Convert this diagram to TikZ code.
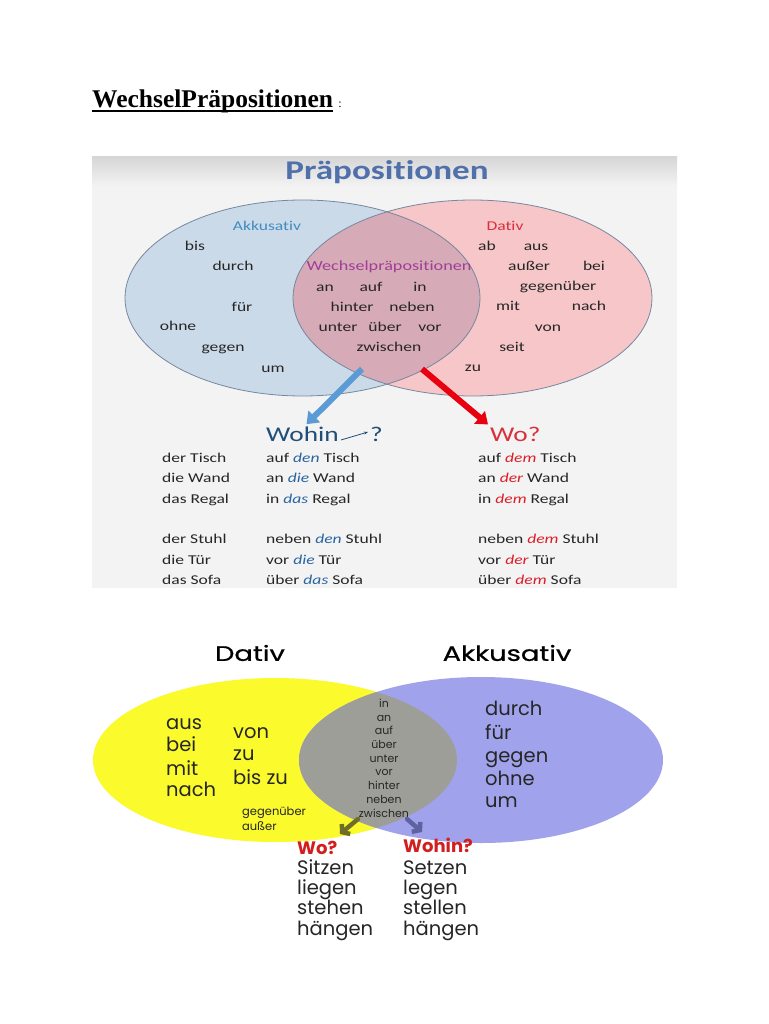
\documentclass[tikz,border=0pt]{standalone}
\usepackage{fontspec}
\setmainfont{Liberation Serif}
\newfontfamily\calibri[FakeStretch=1.3, Ligatures=NoCommon]{Carlito}
\newfontfamily\gothic{Poppins}
\newfontfamily\gothichead[FakeStretch=1.3, FakeBold=0.8]{Poppins}
\usetikzlibrary{arrows.meta}

\definecolor{panelgray}{RGB}{243,243,243}
\definecolor{titleblue}{RGB}{79,112,170}
\definecolor{akkfill}{RGB}{203,218,233}
\definecolor{datfill}{RGB}{246,198,200}
\definecolor{lensfill}{RGB}{214,170,182}
\definecolor{vennline}{RGB}{118,136,160}
\definecolor{wordgray}{RGB}{38,38,38}
\definecolor{akklabel}{RGB}{66,140,192}
\definecolor{datlabel}{RGB}{218,48,58}
\definecolor{wechsel}{RGB}{160,62,152}
\definecolor{wohinblue}{RGB}{31,78,121}
\definecolor{arrowblue}{RGB}{91,155,213}
\definecolor{arrowred}{RGB}{232,0,14}
\definecolor{artblue}{RGB}{40,100,160}
\definecolor{artred}{RGB}{220,30,40}
\definecolor{vennyellow}{RGB}{250,250,45}
\definecolor{vennviolet}{RGB}{160,163,236}
\definecolor{venngray}{RGB}{158,158,152}
\definecolor{woolive}{RGB}{110,110,40}
\definecolor{wohinviolet}{RGB}{95,98,160}
\definecolor{qred}{RGB}{210,30,30}

\newcommand{\akkart}[1]{\textcolor{artblue}{\itshape #1}}
\newcommand{\datart}[1]{\textcolor{artred}{\itshape #1}}

\begin{document}
\begin{tikzpicture}[x=1pt, y=-1pt, >=Stealth,
	every node/.style={inner sep=0pt},
	word/.style={font=\calibri\fontsize{13.5}{16}\selectfont, text=wordgray, text height=1.5ex, text depth=.25ex},
	gword/.style={font=\gothic\fontsize{19.5}{22}\selectfont, text=wordgray, anchor=west, text height=1.5ex, text depth=.25ex},
	bigarrow/.style={line width=6pt, -{Triangle[width=16pt,length=11pt]}},
	stubarrow/.style={line width=4.5pt, line cap=round, -{Straight Barb[length=5pt,width=13pt]}}]
	\useasboundingbox (0,0) rectangle (768,1024);
	\fill[white] (0,0) rectangle (768,1024);
	
	% 标题
	\node[anchor=base west, font=\bfseries\fontsize{25.5}{30}\selectfont] (title) at (92,108) {WechselPräpositionen};
	\draw[line width=2pt] ([yshift=-3.5pt]title.base west) -- ([yshift=-3.5pt]title.base east);
	\node[anchor=base west, font=\fontsize{12}{14}\selectfont] (colon) at ([xshift=5pt]title.base east) {:};
	
	% 上图背景
	\fill[panelgray] (92,157) rectangle (677,588);
	\shade[top color=black!16, bottom color=panelgray] (92,157) rectangle (677,186);
	\node[font=\calibri\bfseries\fontsize{27}{30}\selectfont, text=titleblue] (ptitle) at (387,172) {Präpositionen};
	
	% 两个椭圆及交集
	\fill[akkfill] (302.5,298) ellipse [x radius=177.5pt, y radius=98pt];
	\fill[datfill] (472.5,298) ellipse [x radius=179.5pt, y radius=98pt];
	\begin{scope}
		\clip (302.5,298) ellipse [x radius=177.5pt, y radius=98pt];
		\fill[lensfill] (472.5,298) ellipse [x radius=179.5pt, y radius=98pt];
	\end{scope}
	\draw[vennline, line width=0.8pt] (302.5,298) ellipse [x radius=177.5pt, y radius=98pt];
	\draw[vennline, line width=0.8pt] (472.5,298) ellipse [x radius=179.5pt, y radius=98pt];
	
	% Akkusativ
	\node[word, text=akklabel] (akkLabel) at (267,228) {Akkusativ};
	\foreach \w/\x/\y [count=\i] in {bis/195/248, durch/233/268, für/242/309, ohne/178/328, gegen/223/349, um/273/370}
		\node[word] (akk\i) at (\x,\y) {\w};
	
	% Wechselpräpositionen
	\node[word, text=wechsel, font=\calibri\fontsize{14}{16}\selectfont] (wechsel) at (389,268) {Wechselpräpositionen};
	\foreach \w/\x/\y [count=\i] in {an/325/289, auf/371/289, in/420/289, hinter/352/309, neben/412/309, unter/338/329, über/385/329, vor/430/329, zwischen/389/349}
		\node[word] (wp\i) at (\x,\y) {\w};
	
	% Dativ
	\node[word, text=datlabel] (datLabel) at (505,228) {Dativ};
	\foreach \w/\x/\y [count=\i] in {ab/487/248, aus/536/248, außer/529/268, bei/594/268, gegenüber/558/288, mit/508/308, nach/589/308, von/548/329, seit/512/349, zu/473/369}
		\node[word] (dat\i) at (\x,\y) {\w};
	
	% Wohin / Wo
	\node[font=\calibri\fontsize{21}{24}\selectfont, text=wohinblue, anchor=base west] (wohin) at (266,441) {Wohin};
	\node[font=\calibri\fontsize{21}{24}\selectfont, text=wohinblue, anchor=base west] (wohinQ) at (370,441) {?};
	\node[font=\calibri\fontsize{21}{24}\selectfont, text=datlabel, anchor=base west] (wo) at (490,441) {Wo?};
	\coordinate (blueStart) at (362,369);
	\coordinate (redStart) at (422,369);
	\draw[bigarrow, arrowblue] (blueStart) -- ([xshift=4pt,yshift=2pt]wohin.north);
	\draw[bigarrow, arrowred] (redStart) -- ([xshift=-2pt,yshift=2pt]wo.north west);
	\draw[wohinblue, line width=0.8pt, -{Stealth[length=4pt,width=3pt]}] ([xshift=2pt,yshift=1pt]wohin.base east) -- ([xshift=-2pt,yshift=9pt]wohinQ.base west);
	
	% Beispiele
	\foreach \a/\b/\c/\y [count=\i] in {der Tisch/auf \akkart{den} Tisch/auf \datart{dem} Tisch/460, die Wand/an \akkart{die} Wand/an \datart{der} Wand/480, das Regal/in \akkart{das} Regal/in \datart{dem} Regal/501, der Stuhl/neben \akkart{den} Stuhl/neben \datart{dem} Stuhl/541, die Tür/vor \akkart{die} Tür/vor \datart{der} Tür/562, das Sofa/über \akkart{das} Sofa/über \datart{dem} Sofa/582} {
		\node[word, anchor=west] (nom\i) at (162,\y) {\a};
		\node[word, anchor=west] (akkEx\i) at (266,\y) {\b};
		\node[word, anchor=west] (datEx\i) at (478,\y) {\c};
	}
	
	% unteres Bild: Titel
	\node[font=\gothichead\fontsize{21}{24}\selectfont] (datTitle) at (250,653) {Dativ};
	\node[font=\gothichead\fontsize{21}{24}\selectfont] (akkTitle) at (507,653) {Akkusativ};
	
	% gelb / violett / grau
	\fill[vennyellow] (275,760) ellipse [x radius=182pt, y radius=82pt];
	\fill[vennviolet] (481,760) ellipse [x radius=182pt, y radius=83pt];
	\begin{scope}
		\clip (275,760) ellipse [x radius=182pt, y radius=82pt];
		\fill[venngray] (481,760) ellipse [x radius=182pt, y radius=83pt];
	\end{scope}
	
	% Dativ-Wörter
	\foreach \w/\y [count=\i] in {aus/727, bei/749, mit/773, nach/794}
		\node[gword] (dw\i) at (166,\y) {\w};
	\foreach \w/\y [count=\i] in {von/736, zu/758, bis zu/782}
		\node[gword] (dv\i) at (233,\y) {\w};
	\foreach \w/\y [count=\i] in {gegenüber/813, außer/828}
		\node[gword, font=\gothic\fontsize{11.5}{13}\selectfont] (dg\i) at (242,\y) {\w};
	
	% Wechsel-Wörter
	\foreach \w/\y [count=\i] in {in/705, an/719, auf/732, über/746, unter/760, vor/773, hinter/787, neben/801, zwischen/815}
		\node[gword, anchor=center, font=\gothic\fontsize{11}{13}\selectfont] (ww\i) at (384,\y) {\w};
	
	% Akkusativ-Wörter
	\foreach \w/\y [count=\i] in {durch/713, für/737, gegen/760, ohne/783, um/805}
		\node[gword] (aw\i) at (485,\y) {\w};
	
	% Wo? / Wohin?
	\node[gword, font=\gothic\bfseries\fontsize{18}{22}\selectfont, text=qred] (wo2) at (297,852) {Wo?};
	\node[gword, font=\gothic\bfseries\fontsize{18}{22}\selectfont, text=qred] (wohin2) at (403,850) {Wohin?};
	\foreach \w/\y [count=\i] in {Sitzen/872, liegen/892, stehen/912, hängen/933}
		\node[gword] (wov\i) at (297,\y) {\w};
	\foreach \w/\y [count=\i] in {Setzen/872, legen/892, stellen/912, hängen/933}
		\node[gword] (whv\i) at (403,\y) {\w};
	
	% kleine Pfeile
	\coordinate (oliveStart) at (358,819);
	\coordinate (oliveEnd) at (340,834);
	\coordinate (violetStart) at (407,819);
	\coordinate (violetEnd) at (422,832);
	\draw[stubarrow, woolive] (oliveStart) -- (oliveEnd);
	\draw[stubarrow, wohinviolet] (violetStart) -- (violetEnd);
\end{tikzpicture}
\end{document}
